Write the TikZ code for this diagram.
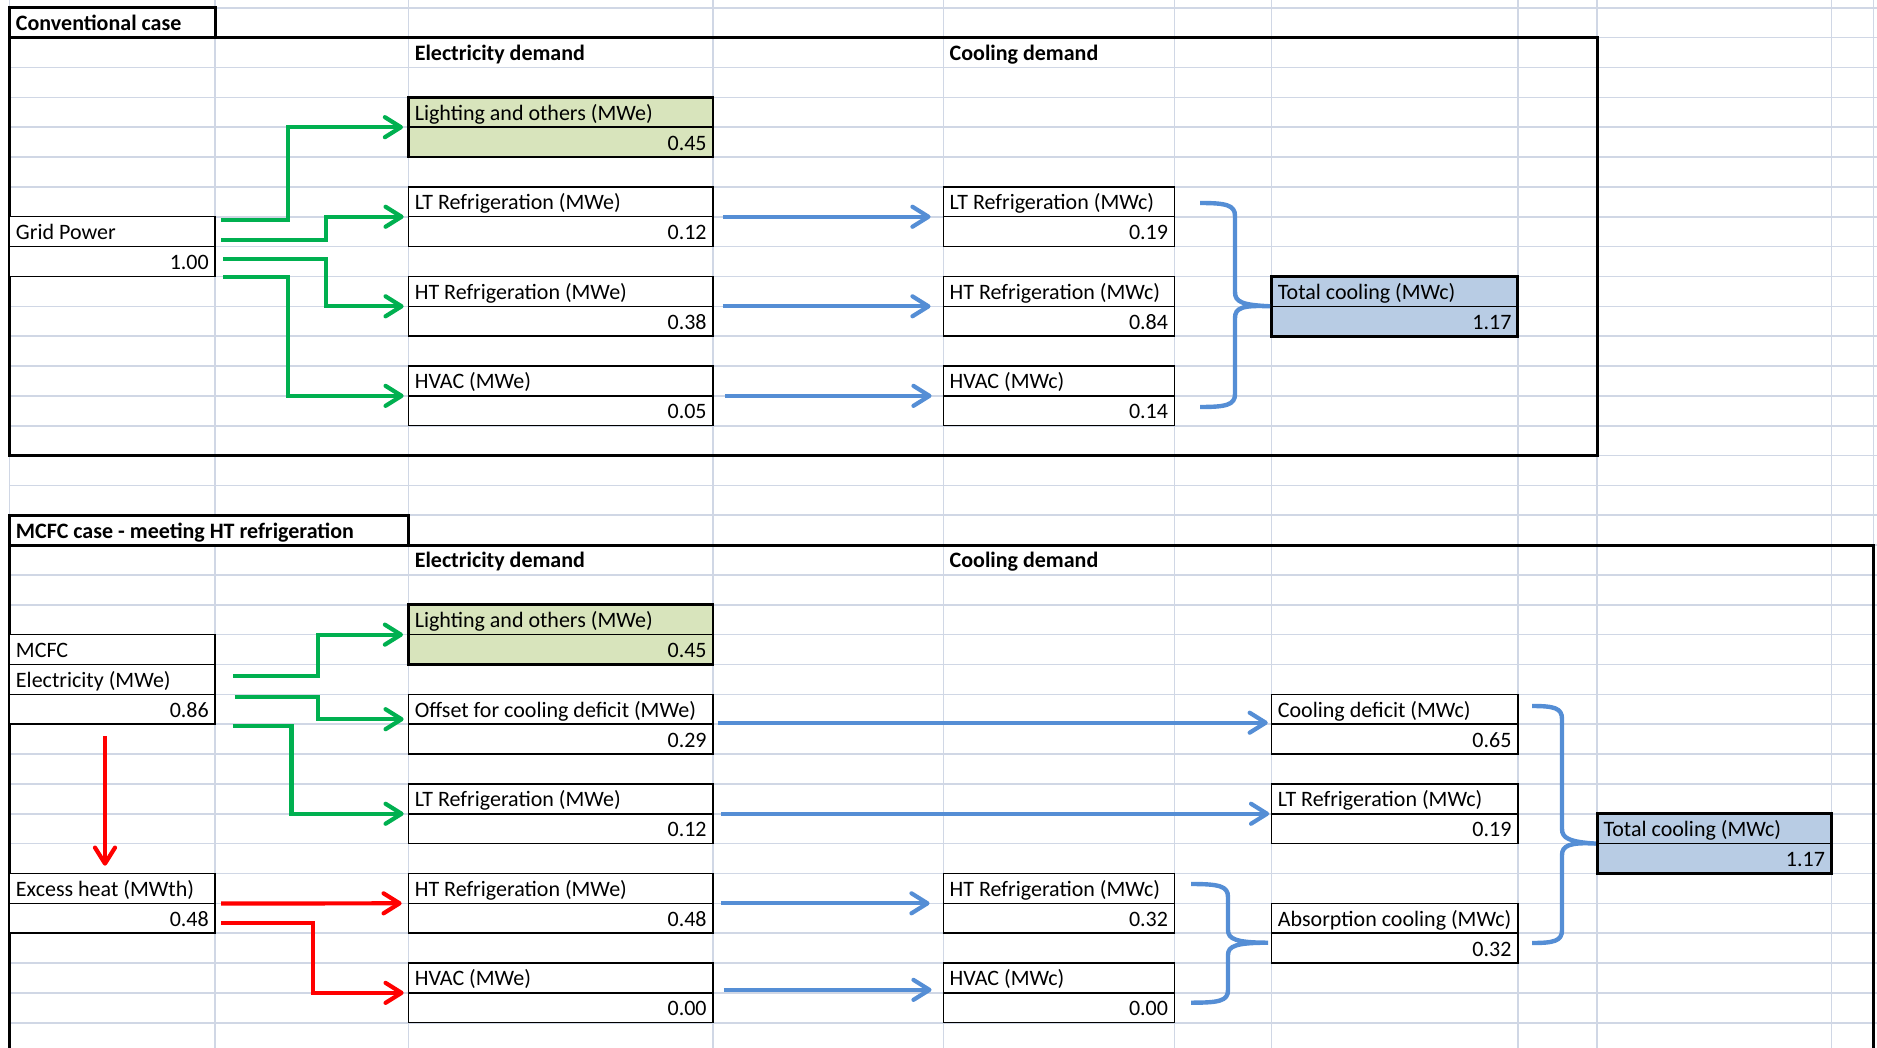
\documentclass[tikz,border=0pt]{standalone}
\usepackage{fontspec}
\setmainfont{Carlito}
\usetikzlibrary{arrows.meta,fit,calc}
\definecolor{gridc}{RGB}{208,215,229}
\definecolor{grn}{RGB}{0,176,80}
\definecolor{blu}{RGB}{85,142,213}
\definecolor{rd}{RGB}{255,0,0}
\definecolor{litegreen}{RGB}{216,228,188}
\definecolor{liteblue}{RGB}{184,204,228}
\def\cxA{9.6}\def\cxB{215.2}\def\cxC{408.4}\def\cxD{713}\def\cxE{943.3}
\def\cxF{1174.4}\def\cxG{1271.5}\def\cxH{1517.8}\def\cxI{1597.2}\def\cxJ{1831.3}\def\cxK{1873.5}
\newcommand\rowy[1]{\pgfmathsetmacro\ry{7.8+29.85*(#1)}}
\newcommand\xbox[7]{%
  \pgfmathsetmacro\ya{7.8+29.85*#4}%
  \pgfmathsetmacro\yb{7.8+29.85*(#4+1)}%
  \pgfmathsetmacro\yc{7.8+29.85*(#4+2)}%
  \node[cellbox,#5,fit={(#2,\ya) (#3,\yc)}] (#1) {};
  \draw[midline] (#2,\yb) -- (#3,\yb);
  \node[lbl] at (#2+6,\yb-7) {#6};
  \node[val] at (#3-6,\yc-7) {#7};
}
\begin{document}
\begin{tikzpicture}[x=0.5pt,y=-0.5pt,
  font=\fontsize{11}{13}\selectfont,
  gridl/.style={draw=gridc,line width=0.8pt},
  cellbox/.style={draw=black,line width=0.75pt,fill=white,inner sep=0pt},
  thickbox/.style={line width=1.4pt},
  framebox/.style={draw=black,line width=1.5pt,fill=white,inner sep=0pt},
  framel/.style={draw=black,line width=1.5pt},
  midline/.style={draw=black,line width=0.75pt},
  lbl/.style={anchor=base west,inner sep=0pt},
  val/.style={anchor=base east,inner sep=0pt},
  hdr/.style={anchor=base west,inner sep=0pt,font=\fontsize{11}{13}\selectfont\bfseries},
  flow/.style={line width=2.1pt,line join=miter,-{Straight Barb[length=8pt,width=10pt,round]}},
  garrow/.style={flow,draw=grn},
  rarrow/.style={flow,draw=rd},
  barrow/.style={flow,draw=blu},
  bracel/.style={draw=blu,line width=2.2pt},
]
\useasboundingbox (0,0) rectangle (1877,1048);
% grid lines
\foreach \k in {0,...,34}{\draw[gridl] (\cxA,{7.8+29.85*\k}) -- (1877,{7.8+29.85*\k});}
\foreach \x in {\cxA,\cxB,\cxC,\cxD,\cxE,\cxF,\cxG,\cxH,\cxI,\cxJ,\cxK}{\draw[gridl] (\x,0) -- (\x,1048);}

% ---------------- Conventional case ----------------
\rowy{1}\draw[framel] (\cxA,\ry) rectangle (\cxI,{7.8+29.85*15});
\node[framebox,fit={(\cxA,7.8) (\cxB,37.65)}] (t1) {};
\node[hdr] (t1text) at (\cxA+6,30.65) {Conventional case};
\rowy{2}
\node[hdr] (eh1) at (\cxC+6,\ry-7) {Electricity demand};
\node[hdr] (ch1) at (\cxE+6,\ry-7) {Cooling demand};

\xbox{lit1}{\cxC}{\cxD}{3}{thickbox,fill=litegreen}{Lighting and others (MWe)}{0.45}
\xbox{lte1}{\cxC}{\cxD}{6}{}{LT Refrigeration (MWe)}{0.12}
\xbox{grid}{\cxA}{\cxB}{7}{}{Grid Power}{1.00}
\xbox{hte1}{\cxC}{\cxD}{9}{}{HT Refrigeration (MWe)}{0.38}
\xbox{hve1}{\cxC}{\cxD}{12}{}{HVAC (MWe)}{0.05}
\xbox{ltc1}{\cxE}{\cxF}{6}{}{LT Refrigeration (MWc)}{0.19}
\xbox{htc1}{\cxE}{\cxF}{9}{}{HT Refrigeration (MWc)}{0.84}
\xbox{hvc1}{\cxE}{\cxF}{12}{}{HVAC (MWc)}{0.14}
\xbox{tot1}{\cxG}{\cxH}{9}{thickbox,fill=liteblue}{Total cooling (MWc)}{1.17}

\coordinate (g1) at (221,220);
\coordinate (g2) at (221,240);
\coordinate (g3) at (223,259);
\coordinate (g4) at (223,277);
\draw[garrow,shorten >=2pt] (g1) -- (288,220) |- (lit1.west);
\draw[garrow,shorten >=2pt] (g2) -- (325.6,240) |- (lte1.west);
\draw[garrow,shorten >=2pt] (g3) -- (325.6,259) |- (hte1.west);
\draw[garrow,shorten >=2pt] (g4) -- (288,277) |- (hve1.west);

\draw[barrow,shorten <=4.5pt,shorten >=6pt] (lte1.east) -- (ltc1.west);
\draw[barrow,shorten <=4.5pt,shorten >=6pt] (hte1.east) -- (htc1.west);
\draw[barrow,shorten <=5.5pt,shorten >=5.5pt] (hve1.east) -- (hvc1.west);

% brace conventional
\draw[bracel] (1200,203) .. controls (1226,203) and (1235,205) .. (1235,216) -- (1235,292)
  .. controls (1235,302) and (1242,305) .. (tot1.west)
  .. controls (1242,305) and (1235,308) .. (1235,318) -- (1235,394)
  .. controls (1235,405) and (1226,407) .. (1200,407);

% ---------------- MCFC case ----------------
\rowy{18}
\draw[framel] (\cxA,1052) -- (\cxA,\ry) -- (\cxK,\ry) -- (\cxK,1052);
\node[framebox,fit={(\cxA,{7.8+29.85*17}) (\cxC,\ry)}] (t2) {};
\node[hdr] (t2text) at (\cxA+6,\ry-7) {MCFC case - meeting HT refrigeration};
\rowy{19}
\node[hdr] (eh2) at (\cxC+6,\ry-7) {Electricity demand};
\node[hdr] (ch2) at (\cxE+6,\ry-7) {Cooling demand};

\xbox{lit2}{\cxC}{\cxD}{20}{thickbox,fill=litegreen}{Lighting and others (MWe)}{0.45}
\xbox{off2}{\cxC}{\cxD}{23}{}{Offset for cooling deficit (MWe)}{0.29}
\xbox{lte2}{\cxC}{\cxD}{26}{}{LT Refrigeration (MWe)}{0.12}
\xbox{exh}{\cxA}{\cxB}{29}{}{Excess heat (MWth)}{0.48}
\xbox{hte2}{\cxC}{\cxD}{29}{}{HT Refrigeration (MWe)}{0.48}
\xbox{hve2}{\cxC}{\cxD}{32}{}{HVAC (MWe)}{0.00}
\xbox{cdef}{\cxG}{\cxH}{23}{}{Cooling deficit (MWc)}{0.65}
\xbox{ltc2}{\cxG}{\cxH}{26}{}{LT Refrigeration (MWc)}{0.19}
\xbox{htc2}{\cxE}{\cxF}{29}{}{HT Refrigeration (MWc)}{0.32}
\xbox{hvc2}{\cxE}{\cxF}{32}{}{HVAC (MWc)}{0.00}
\xbox{abs}{\cxG}{\cxH}{30}{}{Absorption cooling (MWc)}{0.32}
\xbox{tot2}{\cxI}{\cxJ}{27}{thickbox,fill=liteblue}{Total cooling (MWc)}{1.17}

% MCFC three-cell box
\node[cellbox,fit={(\cxA,{7.8+29.85*21}) (\cxB,{7.8+29.85*24})}] (mcfc) {};
\rowy{22}\draw[midline] (\cxA,\ry) -- (\cxB,\ry);
\node[lbl] at (\cxA+6,\ry-7) {MCFC};
\rowy{23}\draw[midline] (\cxA,\ry) -- (\cxB,\ry);
\node[lbl] at (\cxA+6,\ry-7) {Electricity (MWe)};
\rowy{24}
\node[val] at (\cxB-6,\ry-7) {0.86};

\coordinate (m1) at (233,676);
\coordinate (m2) at (234.6,697);
\coordinate (m3) at (233,726);
\draw[garrow,shorten >=2pt] (m1) -- (317.7,676) |- (lit2.west);
\draw[garrow,shorten >=2pt] (m2) -- (317.7,697) |- ($(off2.west)+(0,-5)$);
\draw[garrow,shorten >=2pt] (m3) -- (291.5,726) |- (lte2.west);

\coordinate (r0) at (105,736);
\draw[rarrow,shorten >=3.5pt] (r0) -- (r0 |- exh.north);
\coordinate (e1) at (221,903.5);
\coordinate (e2) at (221,923);
\draw[rarrow,shorten >=3pt] (e1) -- (hte2.west);
\draw[rarrow,shorten >=2pt] (e2) -- (313,923) |- (hve2.west);

\draw[barrow,shorten <=2pt,shorten >=1.5pt] ($(off2.east)+(0,-1.5)$) -- ($(cdef.west)+(0,-1.5)$);
\draw[barrow,shorten <=3.5pt,shorten >=0.8pt] (lte2.east) -- (ltc2.west);
\draw[barrow,shorten <=3.5pt,shorten >=6.5pt] (hte2.east) -- (htc2.west);
\draw[barrow,shorten <=5pt,shorten >=5.5pt] ($(hve2.east)+(0,-3)$) -- ($(hvc2.west)+(0,-3)$);

% lower brace (HT + HVAC -> absorption)
\draw[bracel] (1191,884) .. controls (1219,884) and (1228,886) .. (1228,897) -- (1228,930)
  .. controls (1228,939) and (1236,942.7) .. (1268,942.7)
  .. controls (1236,942.7) and (1228,946) .. (1228,955) -- (1228,990)
  .. controls (1228,1001) and (1219,1002.7) .. (1191,1002.7);
% big brace -> total cooling
\draw[bracel] (1532,706) .. controls (1554,706) and (1562,708) .. (1562,719) -- (1562,829)
  .. controls (1562,838) and (1569,842) .. (tot2.west)
  .. controls (1569,842) and (1562,846) .. (1562,855) -- (1562,930)
  .. controls (1562,941) and (1554,943) .. (1532,943);
\end{tikzpicture}
\end{document}
